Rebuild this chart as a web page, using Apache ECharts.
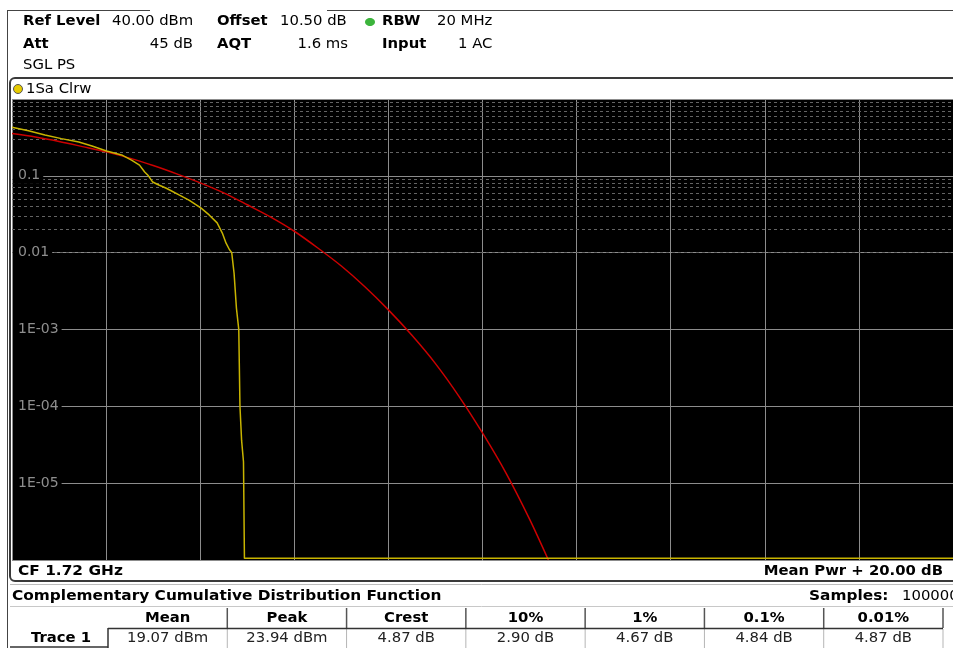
<!DOCTYPE html>
<html><head><meta charset="utf-8">
<script src="https://cdn.jsdelivr.net/npm/echarts@6/dist/echarts.min.js"></script>
<style>html,body{margin:0;padding:0;background:#fff;overflow:hidden}#c{width:953px;height:648px;}</style>
</head><body><div id="c"></div>
<script>
// ---- data ----
const redDb  = [0, 0.5, 1, 1.5, 2, 2.5, 3, 3.5, 4, 4.5, 5, 5.5, 6, 6.5, 7, 7.5, 8, 8.5, 9, 9.5, 10, 10.5, 11, 11.4];
const redVal = [0.355, 0.32, 0.28, 0.24, 0.205, 0.17, 0.136, 0.106, 0.081, 0.06, 0.042, 0.029, 0.019, 0.0115, 0.0067, 0.0036, 0.0018, 0.00084, 0.00036, 0.000135, 0.000045, 0.0000135, 0.0000034, 0.000001];
const yelDb  = [0, 0.35, 0.7, 1.05, 1.42, 1.7, 2.01, 2.33, 2.54, 2.71, 2.82, 2.90, 2.99, 3.12, 3.28, 3.56, 3.77, 4.02, 4.19, 4.36, 4.47, 4.55, 4.62, 4.67, 4.72, 4.77, 4.82, 4.845, 4.88, 4.92, 4.94, 20];
const yelVal = [0.43, 0.385, 0.34, 0.305, 0.275, 0.245, 0.21, 0.187, 0.16, 0.138, 0.112, 0.1, 0.083, 0.076, 0.069, 0.056, 0.048, 0.038, 0.031, 0.0244, 0.018, 0.0133, 0.011, 0.01, 0.0054, 0.0019, 0.001, 0.0001, 0.000036, 0.000019, 0.00000105, 0.00000105];
const yTickLabels = ['1', '0.1', '0.01', '1E-03', '1E-04', '1E-05', '1E-06'];
const xRange = [0, 20];
const xStep = 2;
const yRange = [1e-6, 1];
const tableHeaders = ['Mean', 'Peak', 'Crest', '10%', '1%', '0.1%', '0.01%'];
const tableValues = ['19.07 dBm', '23.94 dBm', '4.87 dB', '2.90 dB', '4.67 dB', '4.84 dB', '4.87 dB'];
const rowLabel = 'Trace 1';

// ---- helpers ----
const FF = 'DejaVu Sans';
const SX = 1.06;
function T(text, x, y, o) {
  o = o || {};
  return {
    type: 'text', x: x, y: y, scaleX: o.sx || SX, z: 50,
    style: {
      text: text, fill: o.color || '#000', fontFamily: FF,
      fontSize: o.size || 14, fontWeight: o.bold ? 'bold' : 'normal',
      align: o.align || 'left', verticalAlign: 'middle'
    }
  };
}
function L(x1, y1, x2, y2, color, w) {
  return { type: 'line', z: 60, shape: { x1: x1, y1: y1, x2: x2, y2: y2 },
    style: { stroke: color, lineWidth: w || 1 } };
}

// minor log grid values (2..9 per decade)
const minorVals = [];
for (let e = -6; e < 0; e++) for (let m = 2; m <= 9; m++) minorVals.push(m * Math.pow(10, e));

const graphics = [];
// header frame
graphics.push(L(7.5, 10, 7.5, 648, '#444', 1));
graphics.push(L(7, 10.5, 150, 10.5, '#444', 1));
graphics.push(L(327, 10.5, 953, 10.5, '#444', 1));
// header texts
graphics.push(T('Ref Level', 23, 21, { bold: true }));
graphics.push(T('40.00 dBm', 112, 21));
graphics.push(T('Offset', 217, 21, { bold: true }));
graphics.push(T('10.50 dB', 280, 21));
graphics.push({ type: 'ellipse', z: 50, shape: { cx: 370, cy: 22, rx: 5, ry: 4 }, style: { fill: '#3cb43c' } });
graphics.push(T('RBW', 382, 21, { bold: true }));
graphics.push(T('20 MHz', 437, 21));
graphics.push(T('Att', 23, 44, { bold: true }));
graphics.push(T('45 dB', 193, 44, { align: 'right' }));
graphics.push(T('AQT', 217, 44, { bold: true }));
graphics.push(T('1.6 ms', 348, 44, { align: 'right' }));
graphics.push(T('Input', 382, 44, { bold: true }));
graphics.push(T('1 AC', 458, 44));
graphics.push(T('SGL PS', 23, 65));
// plot window frame
graphics.push({ type: 'rect', z: 60, shape: { x: 10, y: 78, width: 960, height: 503, r: 5 },
  style: { fill: 'none', stroke: '#3a3a3a', lineWidth: 2 } });
graphics.push(L(10, 584.5, 953, 584.5, '#bdbdbd', 1));
graphics.push({ type: 'circle', z: 55, shape: { cx: 18, cy: 89, r: 4.5 }, style: { fill: '#e8cc00', stroke: '#555', lineWidth: 1 } });
graphics.push(T('1Sa Clrw', 26, 89));
graphics.push(T('CF 1.72 GHz', 18, 571, { bold: true, size: 14.5 }));
graphics.push(T('Mean Pwr + 20.00 dB', 943, 571, { bold: true, align: 'right', size: 14 }));
graphics.push(T('Complementary Cumulative Distribution Function', 12, 596, { bold: true, size: 14.5 }));
graphics.push(T('Samples:', 809, 596, { bold: true, size: 14.5 }));
graphics.push(T('100000', 902, 596));
graphics.push(L(10, 606.5, 953, 606.5, '#c8c8c8', 1));
// table
const cellL = 108, cellW = (943 - 108) / tableHeaders.length;
tableHeaders.forEach((h, i) => {
  graphics.push(T(h, cellL + cellW * (i + 0.5), 618, { bold: true, align: 'center' }));
  graphics.push(L(cellL + cellW * (i + 1), 608, cellL + cellW * (i + 1), 628, '#555', 1.5));
  graphics.push(T(tableValues[i], cellL + cellW * (i + 0.5), 638.5, { align: 'center', color: '#222' }));
  graphics.push(L(cellL + cellW * (i + 1), 629, cellL + cellW * (i + 1), 648, '#b5b5b5', 1));
});
graphics.push(L(cellL, 628.5, 943, 628.5, '#333', 1.5));
graphics.push(L(cellL, 628, cellL, 648, '#333', 1.5));
graphics.push(L(10, 647, cellL, 647, '#333', 1.5));
graphics.push(T(rowLabel, 61, 638.5, { bold: true, align: 'center' }));

const chart = echarts.init(document.getElementById('c'), null, { renderer: 'canvas' });
chart.setOption({
  animation: false,
  backgroundColor: '#fff',
  grid: { left: 12, top: 99, width: 944, height: 461, show: true, backgroundColor: '#000', borderWidth: 0 },
  xAxis: {
    type: 'value', min: xRange[0], max: xRange[1], interval: xStep,
    axisLabel: { show: false }, axisLine: { show: false }, axisTick: { show: false },
    splitLine: { show: true, lineStyle: { color: '#8c8c8c', width: 1 } }
  },
  yAxis: [
    {
      type: 'log', logBase: 10, min: yRange[0], max: yRange[1],
      axisLabel: { show: false }, axisLine: { show: false }, axisTick: { show: false },
      splitLine: { show: true, lineStyle: { color: '#8c8c8c', width: 1 } }
    },
    {
      type: 'log', logBase: 10, min: yRange[0], max: yRange[1], position: 'left', z: 3,
      axisLine: { show: false }, axisTick: { show: false }, splitLine: { show: false },
      axisLabel: {
        inside: true, margin: 1, showMinLabel: false, showMaxLabel: false,
        color: '#8e8e8e', fontFamily: FF, fontSize: 14, backgroundColor: '#000', padding: [1, 3, 1, 5],
        formatter: function (v) { return yTickLabels[Math.round(-Math.log10(v))]; }
      }
    }
  ],
  series: [
    {
      name: 'minor', type: 'line', data: [], silent: true, z: 1,
      markLine: {
        silent: true, z: 1, symbol: ['none', 'none'], label: { show: false }, animation: false,
        lineStyle: { type: [3, 3], color: '#646464', width: 1 },
        emphasis: { disabled: true },
        data: minorVals.map(v => ({ yAxis: v }))
      }
    },
    {
      name: 'Gaussian', type: 'line', z: 4, showSymbol: false, smooth: 0.3,
      data: redDb.map((d, i) => [d, redVal[i]]),
      lineStyle: { color: '#cc0000', width: 1.5 }
    },
    {
      name: 'Trace 1', type: 'line', z: 5, showSymbol: false, smooth: false,
      data: yelDb.map((d, i) => [d, yelVal[i]]),
      lineStyle: { color: '#c8b400', width: 1.5 }
    }
  ],
  graphic: graphics
});
</script></body></html>
